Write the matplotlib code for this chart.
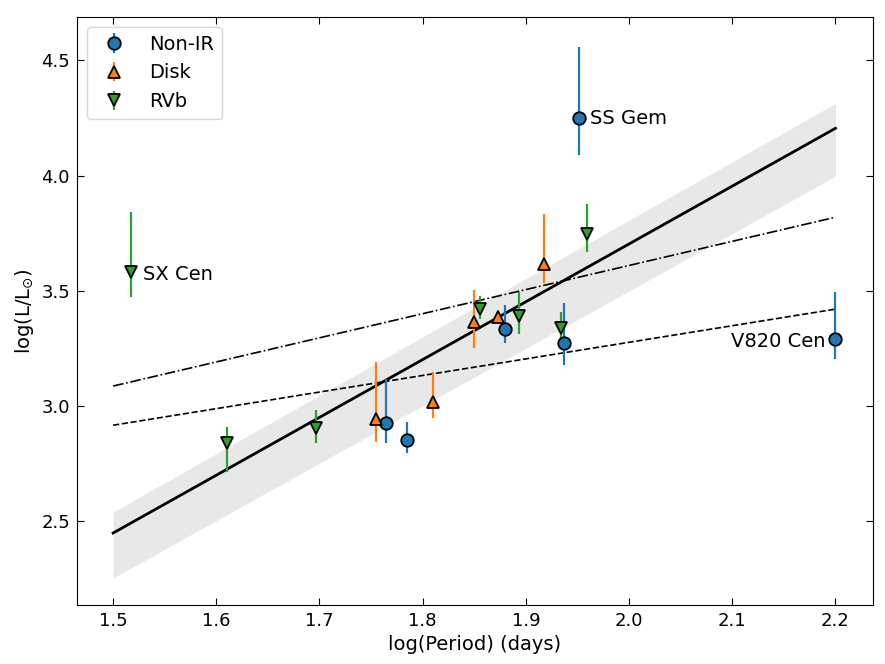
import matplotlib.pyplot as plt
import numpy as np

# Non-IR stars
nonir_x = [1.764, 1.785, 1.880, 1.937, 1.951, 2.200]
nonir_y = [2.925, 2.851, 3.333, 3.272, 4.248, 3.290]
nonir_lo = [0.087, 0.056, 0.061, 0.095, 0.160, 0.087]
nonir_hi = [0.190, 0.078, 0.104, 0.174, 0.312, 0.204]

# Disk stars
disk_x = [1.755, 1.810, 1.850, 1.873, 1.918]
disk_y = [2.942, 3.018, 3.363, 3.386, 3.615]
disk_lo = [0.100, 0.070, 0.110, 0.030, 0.080]
disk_hi = [0.250, 0.130, 0.140, 0.030, 0.220]

# RVb stars
rvb_x = [1.517, 1.610, 1.697, 1.856, 1.893, 1.934, 1.959]
rvb_y = [3.582, 2.838, 2.903, 3.420, 3.389, 3.337, 3.745]
rvb_lo = [0.110, 0.125, 0.065, 0.045, 0.075, 0.060, 0.078]
rvb_hi = [0.260, 0.070, 0.080, 0.055, 0.105, 0.070, 0.130]

# fit lines (end points)
fit_x = [1.5, 2.2]
fit_y = [2.448, 4.205]
band_lo = [2.253, 3.997]
band_hi = [2.539, 4.313]
dashdot_y = [3.086, 3.819]
dashed_y = [2.916, 3.420]

plt.rcParams['font.size'] = 13.5

fig, ax = plt.subplots(figsize=(8.85, 6.64), dpi=100)

ax.fill_between(fit_x, band_lo, band_hi, color='#e8e8e8', lw=0, zorder=0)
ax.plot(fit_x, fit_y, '-', color='black', lw=2, zorder=1)
ax.plot(fit_x, dashdot_y, '-.', color='black', lw=1.2, zorder=1)
ax.plot(fit_x, dashed_y, '--', color='black', lw=1.2, zorder=1)

ax.errorbar(nonir_x, nonir_y, yerr=[nonir_lo, nonir_hi], fmt='o', color='C0',
            mec='black', mew=1.3, ms=9, elinewidth=1.6, label='Non-IR', zorder=3)
ax.errorbar(disk_x, disk_y, yerr=[disk_lo, disk_hi], fmt='^', color='C1',
            mec='black', mew=1.3, ms=9, elinewidth=1.6, label='Disk', zorder=3)
ax.errorbar(rvb_x, rvb_y, yerr=[rvb_lo, rvb_hi], fmt='v', color='C2',
            mec='black', mew=1.3, ms=9, elinewidth=1.6, label='RVb', zorder=3)

ax.text(1.951 + 0.011, 4.248, 'SS Gem', ha='left', va='center', fontsize=14)
ax.text(1.517 + 0.012, 3.582 - 0.01, 'SX Cen', ha='left', va='center', fontsize=14)
ax.text(2.200 - 0.010, 3.290 - 0.01, 'V820 Cen', ha='right', va='center', fontsize=14)

ax.set_xlim(1.465, 2.236)
ax.set_ylim(2.136, 4.687)
ax.set_xticks([1.5, 1.6, 1.7, 1.8, 1.9, 2.0, 2.1, 2.2])
ax.set_yticks([2.5, 3.0, 3.5, 4.0, 4.5])
ax.tick_params(direction='in', top=True, right=True, length=5, labelsize=13, pad=5)
ax.set_xlabel('log(Period) (days)', fontsize=14)
ax.set_ylabel('log(L/L$_{\\odot}$)', fontsize=14)
ax.legend(loc='upper left', fontsize=14)

plt.subplots_adjust(left=0.087, right=0.986, top=0.974, bottom=0.089)
plt.savefig('out.png', dpi=100)
